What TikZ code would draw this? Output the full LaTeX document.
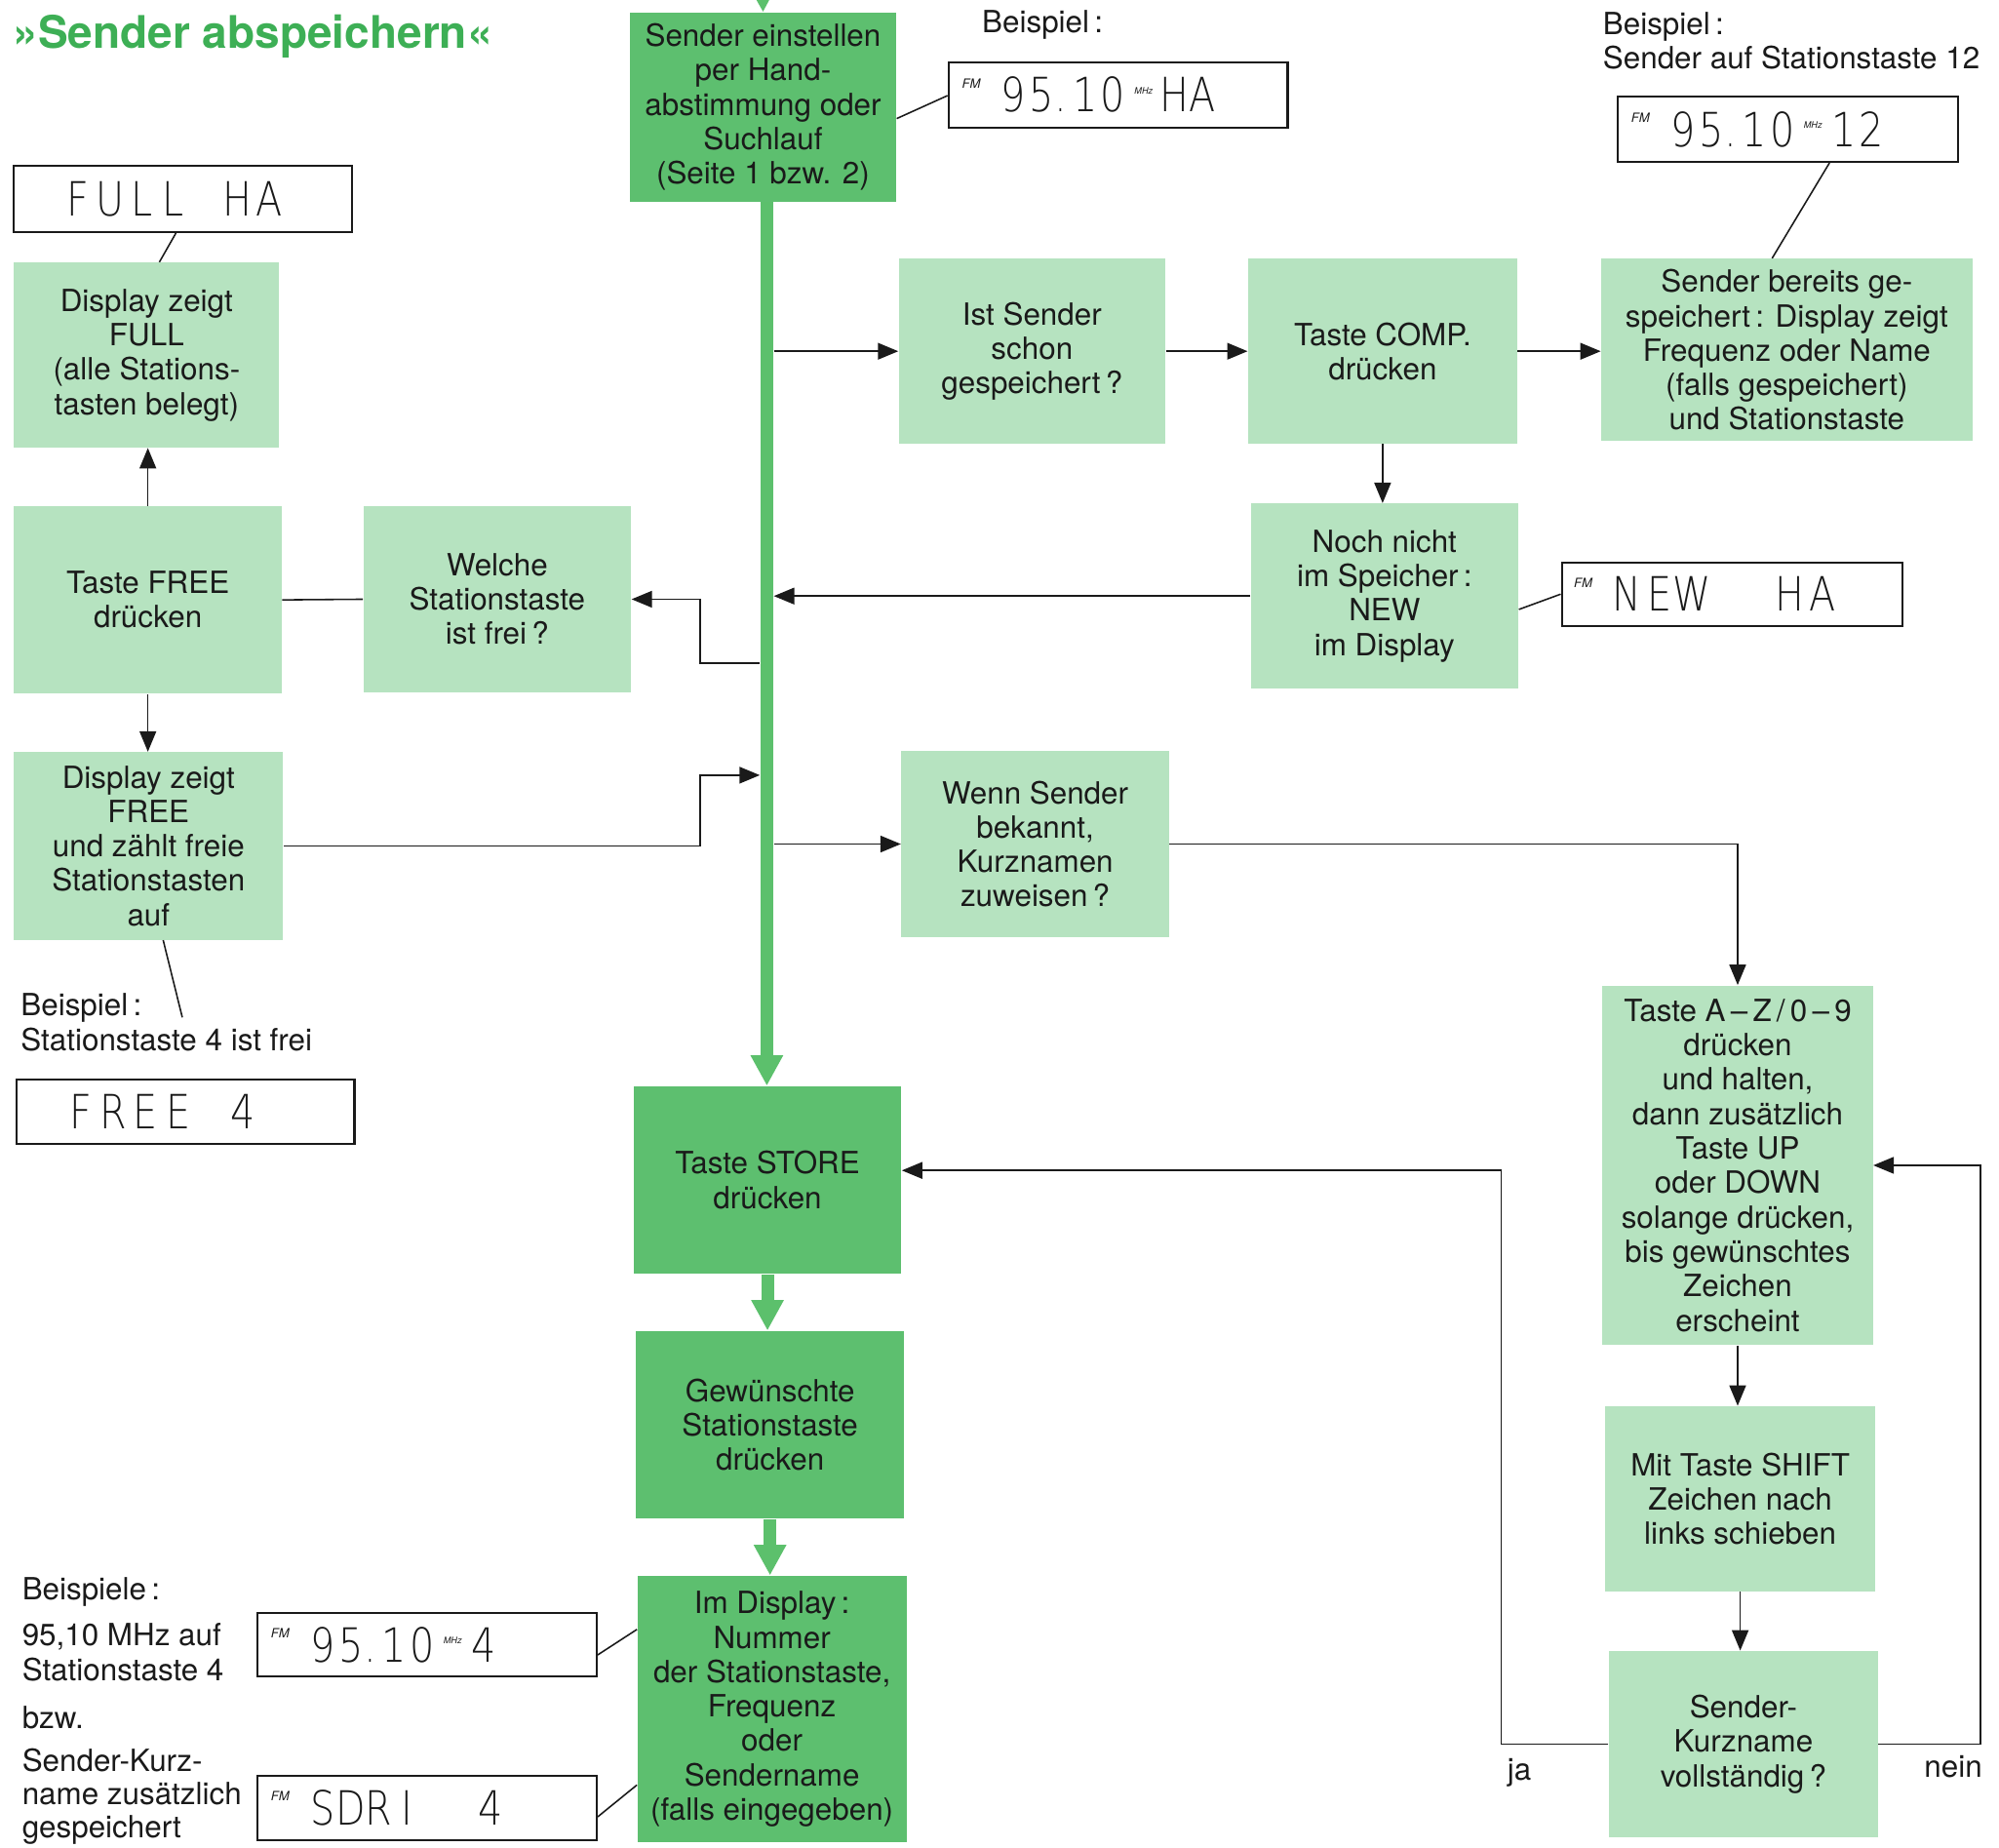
\documentclass[tikz,border=0pt]{standalone}
\usepackage{fontspec}
\setmainfont{TeX Gyre Heros}
\newfontfamily\lcdfont{DejaVu Sans ExtraLight}
\usepackage{graphicx}
\usetikzlibrary{arrows.meta,calc}

\definecolor{dkgreen}{HTML}{5DBF6F}
\definecolor{ltgreen}{HTML}{B6E3C0}
\definecolor{spgreen}{HTML}{5CC06C}
\definecolor{titlegreen}{HTML}{3DAF55}
\definecolor{ink}{HTML}{1A1A1A}

\newlength\lcdpitch
\newcommand\lcdch[1]{\makebox[\lcdpitch][c]{\scalebox{0.82}[1]{#1}}}
\makeatletter
\newcommand\lcd[2][11pt]{{\setlength\lcdpitch{#1}\lcdfont\fontsize{18.5}{18.5}\selectfont\@tfor\lcd@c:=#2\do{\lcdch{\lcd@c}}}}
\makeatother
\newcommand\lcddot{{\lcdfont\fontsize{18.5}{18.5}\selectfont\makebox[6pt][l]{\scalebox{0.7}[1]{.}}}}
\newcommand\fmtag[1][14.75pt]{\makebox[#1][l]{\raisebox{9.5pt}{\fontsize{5}{5}\selectfont\itshape FM}}}
\newcommand\mhz{\makebox[13pt][c]{\raisebox{7pt}{\fontsize{3.5}{4}\selectfont\itshape MHz}}}

\tikzset{
  boxfont/.style={font=\fontsize{12}{13.5}\selectfont},
  lbox/.style={fill=ltgreen, inner sep=0pt, align=center, boxfont, text=ink},
  dbox/.style={fill=dkgreen, inner sep=0pt, align=center, boxfont, text=ink},
  disp/.style={draw=ink, line width=0.8pt, fill=white, inner sep=0pt, minimum height=25.5pt},
  lcdtext/.style={inner sep=0pt, anchor=west, text=ink},
  ln/.style={draw=ink, line width=0.6pt},
  arr/.style={ln, -{Triangle[width=6.5pt,length=8pt]}},
  garr/.style={draw=spgreen, line width=5pt, -{Triangle[width=12pt,length=12pt]}},
  lbl/.style={inner sep=0pt, boxfont, text=ink, align=left},
}

\begin{document}
\begin{tikzpicture}[x=0.5pt,y=-0.5pt]
\useasboundingbox (0,0) rectangle (1568,1449);

% title
\node[anchor=base west, inner sep=0pt, font=\bfseries\fontsize{17.6}{20}\selectfont, text=titlegreen] (title) at (10,38) {»Sender abspeichern«};

% main column (dark green)
\node[dbox, minimum width=104.5pt, minimum height=74pt] (s1) at (598.5,84) {Sender einstellen\\per Hand-\\abstimmung oder\\Suchlauf\\(Seite 1 bzw. 2)};
\node[dbox, minimum width=105pt, minimum height=73.5pt] (s2) at (602,925.5) {Taste STORE\\drücken};
\node[dbox, minimum width=105pt, minimum height=73.5pt] (s3) at (604,1117.5) {Gewünschte\\Stationstaste\\drücken};
\node[dbox, minimum width=105.5pt, minimum height=104.5pt] (s4) at (605.5,1340.5) {Im Display\,:\\Nummer\\der Stationstaste,\\Frequenz\\oder\\Sendername\\(falls eingegeben)};

% light green boxes
\node[lbox, minimum width=104.5pt, minimum height=72.5pt] (q1) at (809.5,275.5) {Ist Sender\\schon\\gespeichert\,?};
\node[lbox, minimum width=105.5pt, minimum height=72.5pt] (c1) at (1084.5,275.5) {Taste COMP.\\drücken};
\node[lbox, minimum width=145.5pt, minimum height=71.5pt] (b1) at (1401.5,274.5) {Sender bereits ge-\\speichert\,: Display zeigt\\Frequenz oder Name\\(falls gespeichert)\\und Stationstaste};
\node[lbox, minimum width=105pt, minimum height=72.5pt] (n1) at (1086,467.5) {Noch nicht\\im Speicher\,:\\NEW\\im Display};
\node[lbox, minimum width=104pt, minimum height=72.5pt] (a1) at (115,278.5) {Display zeigt\\FULL\\(alle Stations-\\tasten belegt)};
\node[lbox, minimum width=105pt, minimum height=73.5pt] (a2) at (116,470.5) {Taste FREE\\drücken};
\node[lbox, minimum width=105pt, minimum height=73pt] (w) at (390,470) {Welche\\Stationstaste\\ist frei\,?};
\node[lbox, minimum width=105.5pt, minimum height=73.5pt] (a3) at (116.5,663.5) {Display zeigt\\FREE\\und zählt freie\\Stationstasten\\auf};
\node[lbox, minimum width=105pt, minimum height=73pt] (k1) at (812,662) {Wenn Sender\\bekannt,\\Kurznamen\\zuweisen\,?};
\node[lbox, minimum width=106pt, minimum height=141pt] (t1) at (1363,914) {Taste A\,–\,Z\,/\,0\,–\,9\\drücken\\und halten,\\dann zusätzlich\\Taste UP\\oder DOWN\\solange drücken,\\bis gewünschtes\\Zeichen\\erscheint};
\node[lbox, minimum width=106pt, minimum height=72.5pt] (m1) at (1365,1175.5) {Mit Taste SHIFT\\Zeichen nach\\links schieben};
\node[lbox, minimum width=105.5pt, minimum height=73pt] (v1) at (1367.5,1368) {Sender-\\Kurzname\\vollständig\,?};

% displays
\node[disp, minimum width=133pt] (d1) at (877,74.5) {};
\node[disp, minimum width=132.5pt, minimum height=26pt] (dfull) at (143.5,156) {};
\node[disp, minimum width=133.5pt] (d2) at (1402.5,101.5) {};
\node[disp, minimum width=133.5pt, minimum height=25pt] (d3) at (1358.5,466) {};
\node[disp, minimum width=132.5pt, minimum height=25pt] (dfree) at (145.5,872) {};
\node[disp, minimum width=133pt, minimum height=25pt] (d4) at (335,1290) {};
\node[disp, minimum width=133pt, minimum height=25pt] (d5) at (335,1418) {};

\node[lcdtext] (d1t) at ($(d1.west)+(11,0)$) {\fmtag\lcd{95}\lcddot\lcd{10}\mhz\lcd{HA}};
\node[lcdtext] (d2t) at ($(d2.west)+(11,0)$) {\fmtag\lcd{95}\lcddot\lcd{10}\mhz\lcd{12}};
\node[lcdtext] (d3t) at ($(d3.west)+(10,0)$) {\fmtag[14.5pt]\lcd[12.75pt]{NEW~~HA}};
\node[lcdtext] (dfullt) at ($(dfull.west)+(38,0)$) {\lcd[12.5pt]{FULL~HA}};
\node[lcdtext] (dfreet) at ($(dfree.west)+(38,0)$) {\lcd[12.75pt]{FREE~4}};
\node[lcdtext] (d4t) at ($(d4.west)+(11,0)$) {\fmtag\lcd{95}\lcddot\lcd{10}\mhz\lcd{4}};
\node[lcdtext] (d5t) at ($(d5.west)+(11,0)$) {\fmtag\lcd{SDRI~~4}};

% free text
\node[lbl, anchor=base west] (bsp1) at (770,26) {Beispiel\,:};
\node[lbl, anchor=north west] (bsp2) at (1257,9) {Beispiel\,:\\Sender auf Stationstaste 12};
\node[lbl, anchor=north west] (bsp3) at (16,779) {Beispiel\,:\\Stationstaste 4 ist frei};
\node[lbl, anchor=base west] (bsp4) at (17,1254.5) {Beispiele\,:};
\node[lbl, anchor=north west] (bsp5) at (17,1273) {95,10 MHz auf\\Stationstaste 4};
\node[lbl, anchor=base west] (bzw) at (17,1355.5) {bzw.};
\node[lbl, anchor=north west, font=\fontsize{12}{13}\selectfont] (bsp6) at (17,1371) {Sender-Kurz-\\name zusätzlich\\gespeichert};
\node[lbl, anchor=base west] (ja) at (1182,1396) {ja};
\node[lbl, anchor=base west] (nein) at (1509,1394) {nein};

% coordinates
\coordinate (topin) at (598,-40);
\coordinate (spC) at (601.5,0);
\coordinate (spxR) at (607,0);
\coordinate (spxL) at (596,0);
\coordinate (jx) at (549,0);
\coordinate (spW) at (596,520);
\coordinate (spA) at (596,608);
\coordinate (lf) at (143,798);

% green flow
\draw[garr] (topin) -- (s1.north);
\draw[garr] (s1.south -| spC) -- (s2.north -| spC);
\draw[garr] (s2.south) -- (s2.south |- s3.north);
\draw[garr] (s3.south) -- (s3.south |- s4.north);

% black connectors
\draw[ln] ($(s1.east)+(0,9)$) -- ($(d1.west)+(0,0.5)$);
\draw[arr] (q1.west -| spxR) -- (q1.west);
\draw[arr] (q1.east) -- (c1.west);
\draw[arr] (c1.east) -- (c1.east -| b1.west);
\draw[ln] ($(b1.north)+(-11.5,0)$) -- ($(d2.south)+(32.5,0)$);
\draw[arr] (c1.south) -- (c1.south |- n1.north);
\draw[arr] (n1.west) -- (n1.west -| spxR);
\draw[ln] ($(n1.east)+(0,10.5)$) -- (d3.west);
\draw[arr] (spW) -- (spW -| jx) |- (w.east);
\draw[ln] (a2.east) -- (w.west);
\draw[arr] (a2.north) -- (a2.north |- a1.south);
\draw[ln] ($(a1.north)+(10,0)$) -- ($(dfull.south)+(-5.5,0)$);
\draw[arr] (a2.south) -- (a2.south |- a3.north);
\draw[arr] (a3.east) -- (a3.east -| jx) |- (spA);
\draw[ln] ($(a3.south)+(11.5,0)$) -- (lf);
\draw[arr] (k1.west -| spxR) -- (k1.west);
\draw[arr] (k1.east) -| (t1.north);
\draw[arr] (t1.south) -- (t1.south |- m1.north);
\draw[arr] (m1.south) -- (m1.south |- v1.north);
\draw[arr] (v1.west) -- ++(-84,0) |- ($(s2.east)+(0,-7.5)$);
\draw[arr] (v1.east) -- ++(80,0) |- (t1.east);
\draw[ln] ($(d4.east)+(0,8)$) -- ($(s4.west)+(0,-62.5)$);
\draw[ln] ($(d5.east)+(0,7)$) -- ($(s4.west)+(0,59.5)$);
\end{tikzpicture}
\end{document}
